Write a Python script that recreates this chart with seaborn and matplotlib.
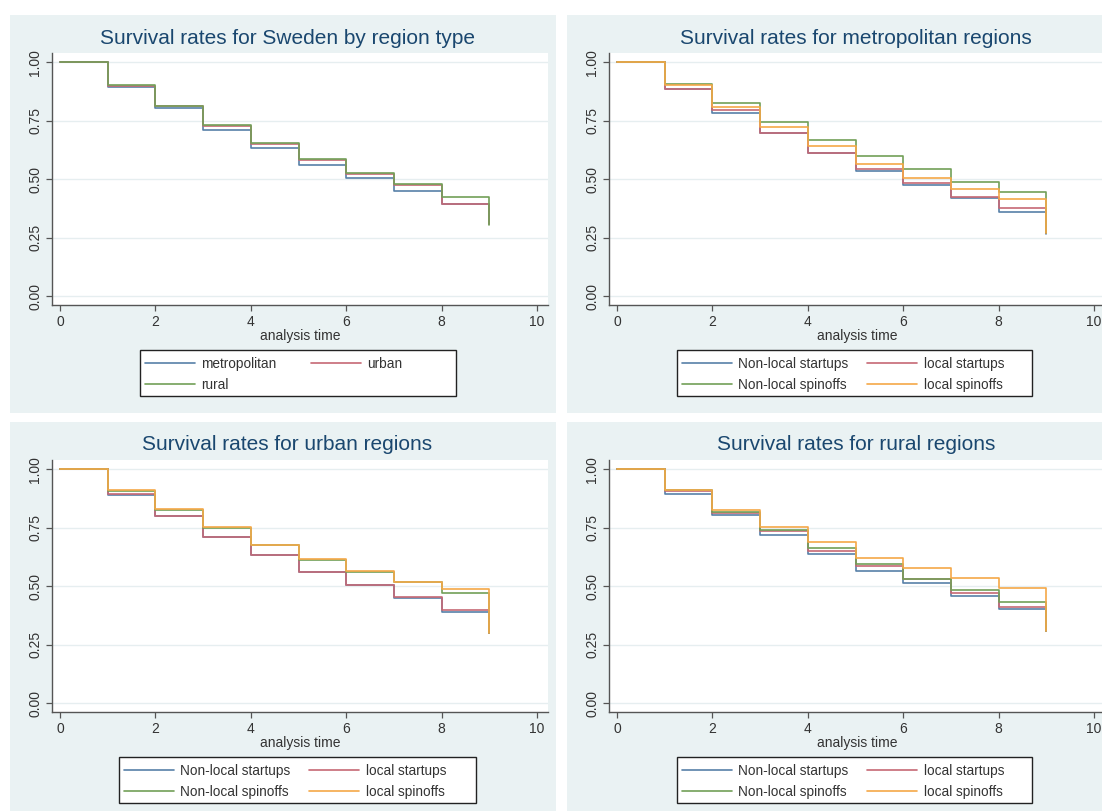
import matplotlib
matplotlib.use("Agg")
import pandas as pd
import matplotlib.pyplot as plt
import seaborn as sns
from matplotlib.patches import Rectangle
from matplotlib.lines import Line2D

# --- dados (Kaplan-Meier, tempo 0..9) ---
years = [0, 1, 2, 3, 4, 5, 6, 7, 8, 9]

region_groups = ["metropolitan", "urban", "rural"]
sweden_metro = [1.0, 0.896, 0.806, 0.711, 0.632, 0.561, 0.504, 0.450, 0.394, 0.31]
sweden_urban = [1.0, 0.900, 0.812, 0.728, 0.650, 0.582, 0.524, 0.476, 0.396, 0.31]
sweden_rural = [1.0, 0.902, 0.813, 0.732, 0.655, 0.588, 0.528, 0.480, 0.426, 0.305]

firm_groups = ["Non-local startups", "local startups", "Non-local spinoffs", "local spinoffs"]

metro_nl_startups = [1.0, 0.886, 0.785, 0.697, 0.614, 0.534, 0.476, 0.421, 0.362, 0.266]
metro_l_startups = [1.0, 0.888, 0.796, 0.697, 0.614, 0.543, 0.486, 0.424, 0.379, 0.27]
metro_nl_spinoffs = [1.0, 0.906, 0.825, 0.744, 0.670, 0.600, 0.544, 0.490, 0.444, 0.27]
metro_l_spinoffs = [1.0, 0.904, 0.810, 0.725, 0.644, 0.566, 0.507, 0.458, 0.415, 0.27]

urban_nl_startups = [1.0, 0.892, 0.800, 0.712, 0.634, 0.560, 0.504, 0.452, 0.392, 0.30]
urban_l_startups = [1.0, 0.894, 0.800, 0.712, 0.634, 0.560, 0.506, 0.453, 0.399, 0.30]
urban_nl_spinoffs = [1.0, 0.908, 0.827, 0.749, 0.675, 0.613, 0.563, 0.517, 0.470, 0.30]
urban_l_spinoffs = [1.0, 0.912, 0.830, 0.752, 0.678, 0.617, 0.567, 0.520, 0.487, 0.30]

rural_nl_startups = [1.0, 0.893, 0.805, 0.720, 0.639, 0.567, 0.515, 0.459, 0.403, 0.31]
rural_l_startups = [1.0, 0.908, 0.815, 0.738, 0.652, 0.588, 0.531, 0.473, 0.413, 0.31]
rural_nl_spinoffs = [1.0, 0.910, 0.818, 0.740, 0.665, 0.595, 0.531, 0.484, 0.434, 0.31]
rural_l_spinoffs = [1.0, 0.912, 0.826, 0.755, 0.688, 0.622, 0.577, 0.534, 0.494, 0.31]

titles = ["Survival rates for Sweden by region type", "Survival rates for metropolitan regions",
          "Survival rates for urban regions", "Survival rates for rural regions"]

# cores (estilo Stata s2color, um pouco mais claras)
COLORS = ["#5880a8", "#c66874", "#72a058", "#f5a848"]
BG = "#eaf2f3"
TITLE_COLOR = "#1a476f"
AXIS_COLOR = "#555555"

W, H = 1102, 811

sns.set_theme(style="white")
plt.rcParams["font.family"] = ["Liberation Sans", "DejaVu Sans"]


def fig_rect(x0, y0, x1, y1):
    """Converte caixa em pixels (origem no topo) para fração da figura."""
    return [x0 / W, 1 - y1 / H, (x1 - x0) / W, (y1 - y0) / H]


def monta_df(groups, series):
    partes = []
    for g, s in zip(groups, series):
        partes.append(pd.DataFrame({"time": years, "survival": s, "group": g}))
    return pd.concat(partes, ignore_index=True)


panels = [
    (titles[0], region_groups, [sweden_metro, sweden_urban, sweden_rural], 0, 0, 2.5, (140, 350, 456, 396)),
    (titles[1], firm_groups, [metro_nl_startups, metro_l_startups, metro_nl_spinoffs, metro_l_spinoffs],
     1, 0, 1.35, (677, 350, 1032, 396)),
    (titles[2], firm_groups, [urban_nl_startups, urban_l_startups, urban_nl_spinoffs, urban_l_spinoffs],
     0, 1, 1.35, (119, 757, 476, 803)),
    (titles[3], firm_groups, [rural_nl_startups, rural_l_startups, rural_nl_spinoffs, rural_l_spinoffs],
     1, 1, 1.35, (677, 757, 1032, 803)),
]

fig = plt.figure(figsize=(W / 100, H / 100), dpi=100, facecolor="white")

for title, groups, series, col, row, colspace, leg_box in panels:
    dx = 557 * col
    dy = 407 * row

    # fundo do painel
    bx0 = 10 if col == 0 else 567
    bx1 = 556 if col == 0 else 1120
    by0 = 15 if row == 0 else 422
    by1 = 413 if row == 0 else 830
    r = fig_rect(bx0, by0, bx1, by1)
    fig.patches.append(Rectangle((r[0], r[1]), r[2], r[3], transform=fig.transFigure,
                                 facecolor=BG, edgecolor="none", zorder=-10))

    ax = fig.add_axes(fig_rect(52 + dx, 53 + dy, 548 + dx, 305 + dy))
    ax.set_facecolor("white")

    df = monta_df(groups, series)
    palette = dict(zip(groups, COLORS[:len(groups)]))
    sns.lineplot(data=df, x="time", y="survival", hue="group", hue_order=groups, palette=palette,
                 drawstyle="steps-post", estimator=None, linewidth=1.2, legend=False, ax=ax)

    ax.set_xlim(-0.17, 10.23)
    ax.set_ylim(-0.037, 1.04)
    ax.set_xticks([0, 2, 4, 6, 8, 10])
    ax.set_yticks([0, 0.25, 0.5, 0.75, 1.0])
    ax.set_yticklabels(["0.00", "0.25", "0.50", "0.75", "1.00"], rotation=90, va="center")
    ax.yaxis.grid(True, color="#e6eef0", linewidth=1.0)
    ax.xaxis.grid(False)
    ax.set_axisbelow(True)

    for side in ["top", "right"]:
        ax.spines[side].set_visible(False)
    for side in ["left", "bottom"]:
        ax.spines[side].set_color(AXIS_COLOR)
        ax.spines[side].set_linewidth(1.0)
    ax.tick_params(axis="both", which="major", direction="out", length=4, width=0.9,
                   color=AXIS_COLOR, labelsize=10, labelcolor="#333333", pad=3,
                   left=True, bottom=True)

    ax.set_xlabel("analysis time", fontsize=10, color="#333333", labelpad=0)
    ax.set_ylabel("")

    # título
    tx = 287 if col == 0 else 856
    fig.text(tx / W, 1 - (38 + dy) / H, title, ha="center", va="center",
             fontsize=15, color=TITLE_COLOR)

    # legenda: caixa desenhada à parte, itens por linha (matplotlib preenche por coluna)
    lx0, ly0, lx1, ly1 = leg_box
    r = fig_rect(lx0, ly0, lx1, ly1)
    fig.patches.append(Rectangle((r[0], r[1]), r[2], r[3], transform=fig.transFigure,
                                 facecolor="white", edgecolor="#222222", linewidth=1.0, zorder=5))
    handles = [Line2D([], [], color=c, linewidth=1.2) for c in COLORS[:len(groups)]]
    if len(groups) == 3:
        order = [0, 2, 1]
    else:
        order = [0, 2, 1, 3]
    leg = fig.legend([handles[i] for i in order], [groups[i] for i in order],
                     loc="upper left", bbox_to_anchor=((lx0 + 5) / W, 1 - (ly0 + 7) / H),
                     bbox_transform=fig.transFigure, ncol=2, frameon=False,
                     fontsize=9.8, handlelength=3.7, handletextpad=0.45,
                     columnspacing=colspace, labelspacing=0.5, borderpad=0, borderaxespad=0)
    leg.set_zorder(7)
    for t in leg.get_texts():
        t.set_color("#333333")

fig.savefig("out.png", dpi=100, facecolor="white")
